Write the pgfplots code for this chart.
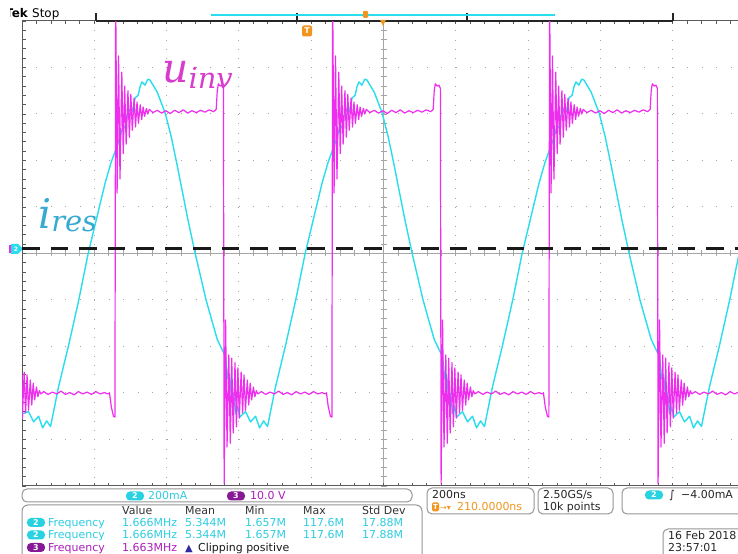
\RequirePackage{fix-cm}
\documentclass[border=0pt]{standalone}
\usepackage{fontspec}
\setmainfont{DejaVu Sans}
\newfontfamily\labfont{DejaVu Serif}
\usepackage{pgfplots}
\pgfplotsset{compat=1.18}
\definecolor{chc}{RGB}{40,222,236}
\definecolor{chm}{RGB}{238,45,238}
\definecolor{cyt}{RGB}{45,205,225}
\definecolor{cyb}{RGB}{40,210,225}
\definecolor{pub}{RGB}{135,25,150}
\definecolor{put}{RGB}{170,30,185}
\definecolor{ora}{RGB}{240,150,30}
\definecolor{gridc}{RGB}{165,165,165}
\definecolor{bordc}{RGB}{90,90,90}
\definecolor{boxc}{RGB}{150,150,150}
\definecolor{ulab}{RGB}{215,60,205}
\definecolor{ilab}{RGB}{55,170,210}
\definecolor{navy}{RGB}{50,40,160}
\tikzset{t/.style={anchor=base west, inner sep=0pt, font=\fontsize{11}{11}\selectfont},
  badge/.style={rounded corners=4bp, minimum width=18bp, minimum height=9bp, inner sep=0pt, text=white, font=\fontsize{8}{8}\selectfont\bfseries}}
\begin{document}
\begin{tikzpicture}
\fill[white] (0,0) rectangle (738bp,554bp);
% ---------- graticule (image pixel coordinates) ----------
\begin{scope}[shift={(0,554bp)}, x=1bp, y=-1bp]
\foreach \k in {1,2,3,4,6,7,8,9} {
  \draw[gridc, line width=1bp, dash pattern=on 1bp off 13.46bp] (22,{21+46.5*\k}) -- (738,{21+46.5*\k});
  \draw[gridc, line width=1bp, dash pattern=on 1bp off 8.3bp] ({22+72.3*\k},21) -- ({22+72.3*\k},486);
}
\draw[gridc, line width=0.7bp] (383.5,21) -- (383.5,486);
\draw[gridc, line width=0.7bp] (22,253.5) -- (738,253.5);
\foreach \m in {0,...,50} \draw[gridc, line width=0.7bp] (380.5,{21+9.3*\m}) -- (386.5,{21+9.3*\m});
\foreach \m in {0,...,50} \draw[gridc, line width=0.7bp] ({22+14.46*\m},250.5) -- ({22+14.46*\m},256.5);
\draw[bordc, line width=1bp] (22,21) -- (22,486) -- (738,486);
\draw[bordc, line width=1bp] (22,21) -- (738,21);
\foreach \m in {0,...,50} \draw[bordc, line width=0.8bp] (22,{21+9.3*\m}) -- (26,{21+9.3*\m});
\foreach \m in {0,...,50} {
  \draw[bordc, line width=0.8bp] ({22+14.46*\m},21) -- ({22+14.46*\m},24);
  \draw[bordc, line width=0.8bp] ({22+14.46*\m},486) -- ({22+14.46*\m},483);
}
% record view bar
\draw[black!85, line width=1.5bp] (96,21) -- (673,21);
\foreach \xx in {96,297,467,673} \draw[black!85, line width=1.3bp] (\xx,21) -- (\xx,13);
\draw[chc, line width=1.5bp] (211,15) -- (555,15);
\fill[ora, rounded corners=1bp] (363,11) rectangle (368,18);
\fill[ora] (380,20) -- (386,20) -- (383,26) -- cycle;
\node[fill=ora, rounded corners=2bp, minimum width=10bp, minimum height=11bp, inner sep=0pt, text=white, font=\fontsize{8}{8}\selectfont\bfseries] at (307,31) {T};
\node[t, font=\fontsize{12}{12}\selectfont\bfseries] at (5,18) {Tek};
\fill[white] (0,0) rectangle (10,20);
\node[t, font=\fontsize{12}{12}\selectfont] at (32,18) {Stop};
% ground marker
\fill[chm] (9,245) rectangle (14,253);
\fill[chc] (11,244) -- (18,244) -- (23,249) -- (18,254) -- (11,254) -- cycle;
\node[text=white, inner sep=0pt, font=\fontsize{6}{6}\selectfont\bfseries] at (16,249) {2};
\end{scope}
% ---------- waveforms ----------
\begin{axis}[at={(22bp,68bp)}, anchor=south west, scale only axis,
  width=716bp, height=465bp, xmin=0, xmax=1980, ymin=-5, ymax=5,
  axis lines=none, xtick=\empty, ytick=\empty]
% i_res (channel 2, divisions of 200 mA) vs time in ns
\addplot[chc, line width=1.4bp, line join=round] coordinates {
(0,-3.45) (18,-3.40) (32,-3.62) (46,-3.50) (57,-3.75) (68,-3.60) (79,-3.72) (101,-2.87) (129,-1.97) (157,-1.0) (183,0)
(230,1.52) (246,1.95) (266,2.38) (273,2.55) (280,2.75) (285,2.70) (291,2.98) (298,3.10) (305,3.05) (313,3.35) (321,3.40) (327,3.60) (332,3.69) (340,3.62) (348,3.75) (354,3.73) (374,3.47) (396,3.02) (413,2.5) (429,1.90) (459,0.72) (479,0) (509,-1.0) (540,-1.85) (563,-2.22) (569,-2.70) (574,-2.60) (580,-3.10) (585,-3.00) (591,-3.45) (596,-3.30) (602,-3.52) (618,-3.40) (632,-3.62) (646,-3.50) (657,-3.75) (668,-3.60) (679,-3.72) (701,-2.87) (729,-1.97) (757,-1.0) (783,0)
(830,1.52) (846,1.95) (866,2.38) (873,2.55) (880,2.75) (885,2.70) (891,2.98) (898,3.10) (905,3.05) (913,3.35) (921,3.40) (927,3.60) (932,3.69) (940,3.62) (948,3.75) (954,3.73) (974,3.47) (996,3.02) (1013,2.5) (1029,1.90) (1059,0.72) (1079,0) (1109,-1.0) (1140,-1.85) (1163,-2.22) (1169,-2.70) (1174,-2.60) (1180,-3.10) (1185,-3.00) (1191,-3.45) (1196,-3.30) (1202,-3.52) (1218,-3.40) (1232,-3.62) (1246,-3.50) (1257,-3.75) (1268,-3.60) (1279,-3.72) (1301,-2.87) (1329,-1.97) (1357,-1.0) (1383,0)
(1430,1.52) (1446,1.95) (1466,2.38) (1473,2.55) (1480,2.75) (1485,2.70) (1491,2.98) (1498,3.10) (1505,3.05) (1513,3.35) (1521,3.40) (1527,3.60) (1532,3.69) (1540,3.62) (1548,3.75) (1554,3.73) (1574,3.47) (1596,3.02) (1613,2.5) (1629,1.90) (1659,0.72) (1679,0) (1709,-1.0) (1740,-1.85) (1763,-2.22) (1769,-2.70) (1774,-2.60) (1780,-3.10) (1785,-3.00) (1791,-3.45) (1796,-3.30) (1802,-3.52) (1818,-3.40) (1832,-3.62) (1846,-3.50) (1857,-3.75) (1868,-3.60) (1879,-3.72) (1901,-2.87) (1929,-1.97) (1957,-1.0) (1983,0)
};
% u_inv (channel 3, divisions of 10 V) vs time in ns
\addplot[chm, line width=1.2bp, line join=round] coordinates {
(0,-2.6) (1,-3.54) (6,-2.55) (10,-3.43) (14,-2.61) (18,-3.37) (23,-2.72) (27,-3.26) (31,-2.79) (35,-3.15) (40,-2.87) (44,-3.08) (48,-2.95) (52,-3.02)
(60,-2.97) (72,-3.03) (84,-2.98) (96,-3.02) (108,-2.96) (120,-3.03) (132,-2.99) (144,-3.04) (156,-2.97) (168,-3.02) (180,-2.98) (192,-3.03) (204,-2.97) (216,-3.02) (228,-2.99) (237,-3.02) (242,-3.0) (247,-3.3) (253,-3.5) (257,-3.52)
(259,5.6) (263,1.3) (267,4.25) (271,1.6) (276,3.9) (280,2.15) (284,3.6) (288,2.35) (293,3.5) (297,2.5) (301,3.42) (305,2.65) (310,3.34) (314,2.72) (318,3.26) (322,2.8) (327,3.2) (331,2.88) (335,3.15) (339,2.95) (344,3.12) (348,3.0) (352,3.1)
(362,3.03) (374,3.08) (386,3.02) (398,3.07) (410,3.01) (422,3.08) (434,3.03) (446,3.09) (458,3.02) (470,3.07) (482,3.03) (494,3.08) (506,3.04) (518,3.09) (530,3.05) (537,3.1) (540,3.5) (543,3.65) (548,3.6) (553,3.62) (557,3.55)
(559,-4.95) (563,-1.43) (567,-4.16) (572,-2.18) (576,-4.08) (580,-2.25) (584,-3.86) (589,-2.35) (593,-3.73) (597,-2.46) (601,-3.54) (606,-2.55) (610,-3.43) (614,-2.61) (618,-3.37) (623,-2.72) (627,-3.26) (631,-2.79) (635,-3.15) (640,-2.87) (644,-3.08) (648,-2.95) (652,-3.02)
(662,-2.97) (674,-3.03) (686,-2.98) (698,-3.02) (710,-2.96) (722,-3.03) (734,-2.99) (746,-3.04) (758,-2.97) (770,-3.02) (782,-2.98) (794,-3.03) (806,-2.97) (818,-3.02) (830,-2.99) (837,-3.02) (842,-3.0) (847,-3.3) (853,-3.5) (857,-3.52)
(859,5.6) (863,1.3) (867,4.25) (871,1.6) (876,3.9) (880,2.15) (884,3.6) (888,2.35) (893,3.5) (897,2.5) (901,3.42) (905,2.65) (910,3.34) (914,2.72) (918,3.26) (922,2.8) (927,3.2) (931,2.88) (935,3.15) (939,2.95) (944,3.12) (948,3.0) (952,3.1)
(962,3.03) (974,3.08) (986,3.02) (998,3.07) (1010,3.01) (1022,3.08) (1034,3.03) (1046,3.09) (1058,3.02) (1070,3.07) (1082,3.03) (1094,3.08) (1106,3.04) (1118,3.09) (1130,3.05) (1137,3.1) (1140,3.5) (1143,3.65) (1148,3.6) (1153,3.62) (1157,3.55)
(1159,-4.95) (1163,-1.43) (1167,-4.16) (1172,-2.18) (1176,-4.08) (1180,-2.25) (1184,-3.86) (1189,-2.35) (1193,-3.73) (1197,-2.46) (1201,-3.54) (1206,-2.55) (1210,-3.43) (1214,-2.61) (1218,-3.37) (1223,-2.72) (1227,-3.26) (1231,-2.79) (1235,-3.15) (1240,-2.87) (1244,-3.08) (1248,-2.95) (1252,-3.02)
(1262,-2.97) (1274,-3.03) (1286,-2.98) (1298,-3.02) (1310,-2.96) (1322,-3.03) (1334,-2.99) (1346,-3.04) (1358,-2.97) (1370,-3.02) (1382,-2.98) (1394,-3.03) (1406,-2.97) (1418,-3.02) (1430,-2.99) (1437,-3.02) (1442,-3.0) (1447,-3.3) (1453,-3.5) (1457,-3.52)
(1459,5.6) (1463,1.3) (1467,4.25) (1471,1.6) (1476,3.9) (1480,2.15) (1484,3.6) (1488,2.35) (1493,3.5) (1497,2.5) (1501,3.42) (1505,2.65) (1510,3.34) (1514,2.72) (1518,3.26) (1522,2.8) (1527,3.2) (1531,2.88) (1535,3.15) (1539,2.95) (1544,3.12) (1548,3.0) (1552,3.1)
(1562,3.03) (1574,3.08) (1586,3.02) (1598,3.07) (1610,3.01) (1622,3.08) (1634,3.03) (1646,3.09) (1658,3.02) (1670,3.07) (1682,3.03) (1694,3.08) (1706,3.04) (1718,3.09) (1730,3.05) (1737,3.1) (1740,3.5) (1743,3.65) (1748,3.6) (1753,3.62) (1757,3.55)
(1759,-4.95) (1763,-1.43) (1767,-4.16) (1772,-2.18) (1776,-4.08) (1780,-2.25) (1784,-3.86) (1789,-2.35) (1793,-3.73) (1797,-2.46) (1801,-3.54) (1806,-2.55) (1810,-3.43) (1814,-2.61) (1818,-3.37) (1823,-2.72) (1827,-3.26) (1831,-2.79) (1835,-3.15) (1840,-2.87) (1844,-3.08) (1848,-2.95) (1852,-3.02)
(1862,-2.97) (1874,-3.03) (1886,-2.98) (1898,-3.02) (1910,-2.96) (1922,-3.03) (1934,-2.99) (1946,-3.04) (1958,-2.97) (1970,-3.02) (1982,-2.98)
};
% zero reference
\addplot[black!90, line width=2.7bp, dash pattern=on 17.5bp off 11bp] coordinates {(0,0.1) (1980,0.1)};
\end{axis}
% ---------- labels and panels ----------
\begin{scope}[shift={(0,554bp)}, x=1bp, y=-1bp]
\node[anchor=base west, inner sep=0pt, text=ulab, font=\labfont\itshape\fontsize{41}{41}\selectfont] at (162,83) {u\raisebox{-6bp}{\fontsize{29}{29}\selectfont inv}};
\node[anchor=base west, inner sep=0pt, text=ilab, font=\labfont\itshape\fontsize{41}{41}\selectfont] at (38,229) {i\raisebox{-3bp}{\fontsize{29}{29}\selectfont res}};
% channel box
\draw[boxc, line width=1bp, rounded corners=5bp, fill=white] (22,489) rectangle (412,502);
\node[badge, fill=cyb] at (135,496) {2};
\node[t, text=cyt] at (148,499.5) {200mA};
\node[badge, fill=pub] at (236,496) {3};
\node[t, text=put] at (250,499.5) {10.0 V};
% measurement box
\draw[boxc, line width=1bp, rounded corners=6bp, fill=white] (22,505) rectangle (422,580);
\foreach \xx/\tt in {122/Value,185/Mean,245/Min,303/Max,362/Std Dev} \node[t, text=black!80] at (\xx,514.5) {\tt};
\foreach \yy in {526.5,539} {
  \node[badge, fill=cyb] at (36,{\yy-4}) {2};
  \node[t, text=cyt] at (48,\yy) {Frequency};
  \node[t, text=cyt] at (122,\yy) {1.666MHz};
  \node[t, text=cyt] at (185,\yy) {5.344M};
  \node[t, text=cyt] at (245,\yy) {1.657M};
  \node[t, text=cyt] at (303,\yy) {117.6M};
  \node[t, text=cyt] at (362,\yy) {17.88M};
}
\node[badge, fill=pub] at (36,547.5) {3};
\node[t, text=put] at (48,551.5) {Frequency};
\node[t, text=put] at (122,551.5) {1.663MHz};
\node[t, text=navy, font=\fontsize{10}{10}\selectfont] at (185,551.5) {▲};
\node[t, text=black!90] at (198,551.5) {Clipping positive};
% timebase box
\draw[boxc, line width=1bp, rounded corners=5bp, fill=white] (427,488) rectangle (534,514);
\node[t, text=black!85] at (432,499) {200ns};
\node[fill=ora, rounded corners=1.5bp, minimum width=7bp, minimum height=9bp, inner sep=0pt, text=white, font=\fontsize{7}{7}\selectfont\bfseries] at (435.5,507) {T};
\node[t, text=ora, font=\fontsize{8}{8}\selectfont] at (440,510.5) {→▾};
\node[t, text=ora] at (457,511) {210.0000ns};
% acquisition box
\draw[boxc, line width=1bp, rounded corners=5bp, fill=white] (538,488) rectangle (613,514);
\node[t, text=black!85] at (543,499) {2.50GS/s};
\node[t, text=black!85] at (543,511) {10k points};
% trigger box
\draw[boxc, line width=1bp, rounded corners=5bp, fill=white] (622,488) rectangle (770,514);
\node[badge, fill=cyb] at (654,495) {2};
\node[t, text=black!85] at (669,499) {∫};
\node[t, text=black!85] at (681,499) {−4.00mA};
% date box
\draw[boxc, line width=1bp, rounded corners=5bp, fill=white] (663,529) rectangle (770,580);
\node[t, text=black!85] at (668,540) {16 Feb 2018};
\node[t, text=black!85] at (668,552) {23:57:01};
\end{scope}
\pgfresetboundingbox
\useasboundingbox (0,0) rectangle (738bp,554bp);
\end{tikzpicture}
\end{document}
